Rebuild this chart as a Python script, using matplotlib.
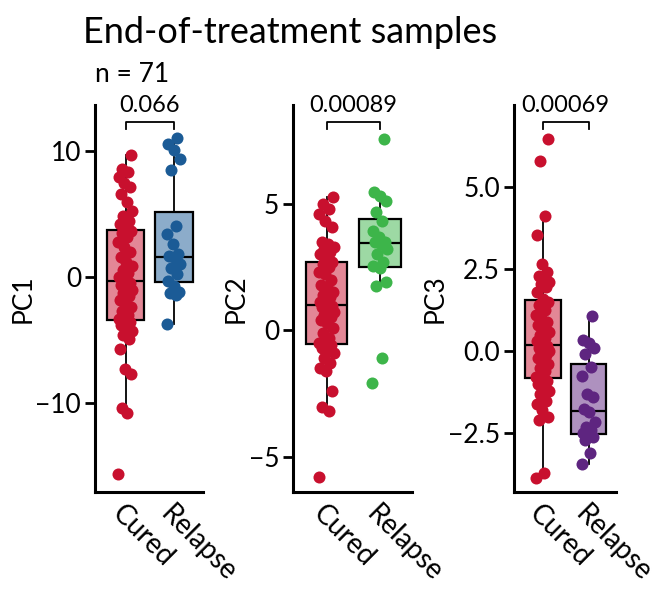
import numpy as np
import matplotlib
matplotlib.use("Agg")
import matplotlib.pyplot as plt
from matplotlib import transforms
from matplotlib.colors import to_rgba

plt.rcParams['font.family'] = ['Lato', 'DejaVu Sans']

# ----------- DATA ----------------------------------- #
groups = ["Cured", "Relapse"]
pc_names = ["PC1", "PC2", "PC3"]
p_values = ["0.066", "0.00089", "0.00069"]
n_total = 71

pc1_cured = [-15.7, -10.8, -10.4, -7.7, -7.3, -5.7, -4.9, -4.6, -4.3, -4.0,
             -3.8, -3.6, -3.45, -3.31, -3.0, -2.7, -2.4, -2.1, -1.8, -1.5,
             -1.3, -1.0, -0.8, -0.6, -0.45, -0.32, 0.0, 0.3, 0.6, 0.9,
             1.2, 1.6, 2.0, 2.4, 2.8, 3.2, 3.5, 3.7, 3.88, 4.2,
             4.5, 4.9, 5.3, 6.0, 6.6, 7.14, 7.5, 7.94, 8.33, 8.6, 9.7]
pc1_relapse = [-3.7, -1.45, -1.3, -1.19, -0.7, -0.3, 0.27, 0.7, 1.06, 1.5,
               1.68, 1.86, 2.65, 3.44, 4.1, 8.5, 9.4, 10.1, 10.6, 11.06]

pc2_cured = [-5.8, -3.2, -3.05, -2.4, -1.6, -1.5, -1.3, -1.1, -0.9, -0.8,
             -0.7, -0.6, -0.56, -0.5, -0.3, -0.1, 0.1, 0.3, 0.4, 0.5,
             0.6, 0.7, 0.8, 0.9, 0.95, 0.99, 1.1, 1.3, 1.4, 1.5,
             1.7, 1.8, 2.0, 2.2, 2.3, 2.5, 2.6, 2.68, 2.74, 3.0,
             3.1, 3.2, 3.3, 3.4, 3.5, 4.06, 4.3, 4.6, 4.8, 5.0, 5.25]
pc2_relapse = [-2.09, -1.1, 1.75, 1.9, 2.45, 2.53, 2.7, 3.0, 3.2, 3.4,
               3.48, 3.5, 3.7, 3.9, 4.3, 4.66, 5.1, 5.3, 5.45, 7.57]

pc3_cured = [-3.84, -3.69, -2.1, -2.0, -1.8, -1.6, -1.5, -1.3, -1.2, -1.1,
             -1.0, -0.9, -0.84, -0.78, -0.6, -0.5, -0.4, -0.3, -0.2, -0.1,
             -0.05, 0.0, 0.05, 0.1, 0.15, 0.2, 0.3, 0.4, 0.5, 0.6,
             0.7, 0.8, 0.9, 1.0, 1.1, 1.25, 1.4, 1.5, 1.6, 1.8,
             1.95, 2.05, 2.1, 2.2, 2.3, 2.4, 2.66, 3.55, 4.1, 5.8, 6.45]
pc3_relapse = [-3.43, -3.08, -2.7, -2.6, -2.55, -2.5, -2.4, -2.3, -2.16, -1.85,
               -1.77, -1.4, -1.3, -0.76, -0.49, -0.07, 0.1, 0.25, 0.33, 1.06]

cured_data = [pc1_cured, pc2_cured, pc3_cured]
relapse_data = [pc1_relapse, pc2_relapse, pc3_relapse]

# ----------- STYLE ------------- #
cured_color = "#C8102E"
relapse_colors = ["#1B5B96", "#3DB54A", "#5E2580"]

W, H = 656, 592
panel_x = [(95, 203), (293, 412), (514, 616)]   # pixel extent of each panel
top_px, bottom_px = 105, 492
ylims = [(-17.1, 13.7), (-6.4, 8.9), (-4.28, 7.49)]
yticks = [[-10, 0, 10], [-5, 0, 5], [-2.5, 0, 2.5, 5.0]]


def jitter(n, width=0.15):
    # deterministic spread for the strip points
    k = np.arange(n)
    return ((k * 0.618034) % 1.0 - 0.5) * 2 * width


fig = plt.figure(figsize=(W / 100, H / 100), dpi=100)

for i in range(3):
    x0, x1 = panel_x[i]
    ax = fig.add_axes([x0 / W, 1 - bottom_px / H, (x1 - x0) / W, (bottom_px - top_px) / H])
    colors = [cured_color, relapse_colors[i]]
    data = [cured_data[i], relapse_data[i]]

    bp = ax.boxplot(data, positions=[0, 1], widths=0.78, patch_artist=True,
                    showcaps=False, showfliers=False, whis=1.5,
                    medianprops=dict(color='black', lw=1.6),
                    whiskerprops=dict(color='black', lw=1.3),
                    boxprops=dict(edgecolor='black', lw=1.6))
    for patch, c in zip(bp['boxes'], colors):
        patch.set_facecolor(to_rgba(c, 0.5))

    for j, (vals, c) in enumerate(zip(data, colors)):
        vals = np.asarray(vals)
        ax.scatter(j + jitter(len(vals)), vals, s=75, color=c, zorder=3,
                   linewidths=0, clip_on=False)

    ax.set_xlim(-0.63, 1.6)
    ax.set_ylim(*ylims[i])
    ax.set_yticks(yticks[i])
    ax.set_xticks([0, 1])
    ax.set_xticklabels(groups, rotation=-45, ha='left', va='top',
                       rotation_mode='anchor', fontsize=20)
    ax.set_ylabel(pc_names[i], fontsize=19, labelpad=0)

    for side in ['top', 'right']:
        ax.spines[side].set_visible(False)
    for side in ['left', 'bottom']:
        ax.spines[side].set_linewidth(2.2)
    ax.tick_params(axis='y', length=7, width=2, labelsize=19, pad=3)
    ax.tick_params(axis='x', length=0, pad=6)

    # significance bracket
    trans = transforms.blended_transform_factory(ax.transData, ax.transAxes)
    h = bottom_px - top_px
    y_br = 1 - 17 / h
    y_tk = 1 - 24 / h
    ax.plot([0, 0, 1, 1], [y_tk, y_br, y_br, y_tk], transform=trans,
            color='black', lw=1.3, clip_on=False)
    ax.text(0.5, 1 - 7 / h, p_values[i], transform=trans, ha='center',
            va='baseline', fontsize=17, clip_on=False)

fig.text(83 / W, 1 - 43 / H, "End-of-treatment samples", fontsize=26,
         ha='left', va='baseline')
fig.text(95 / W, 1 - 82 / H, "n = %d" % n_total, fontsize=19,
         ha='left', va='baseline')

fig.savefig("out.png", dpi=100)
